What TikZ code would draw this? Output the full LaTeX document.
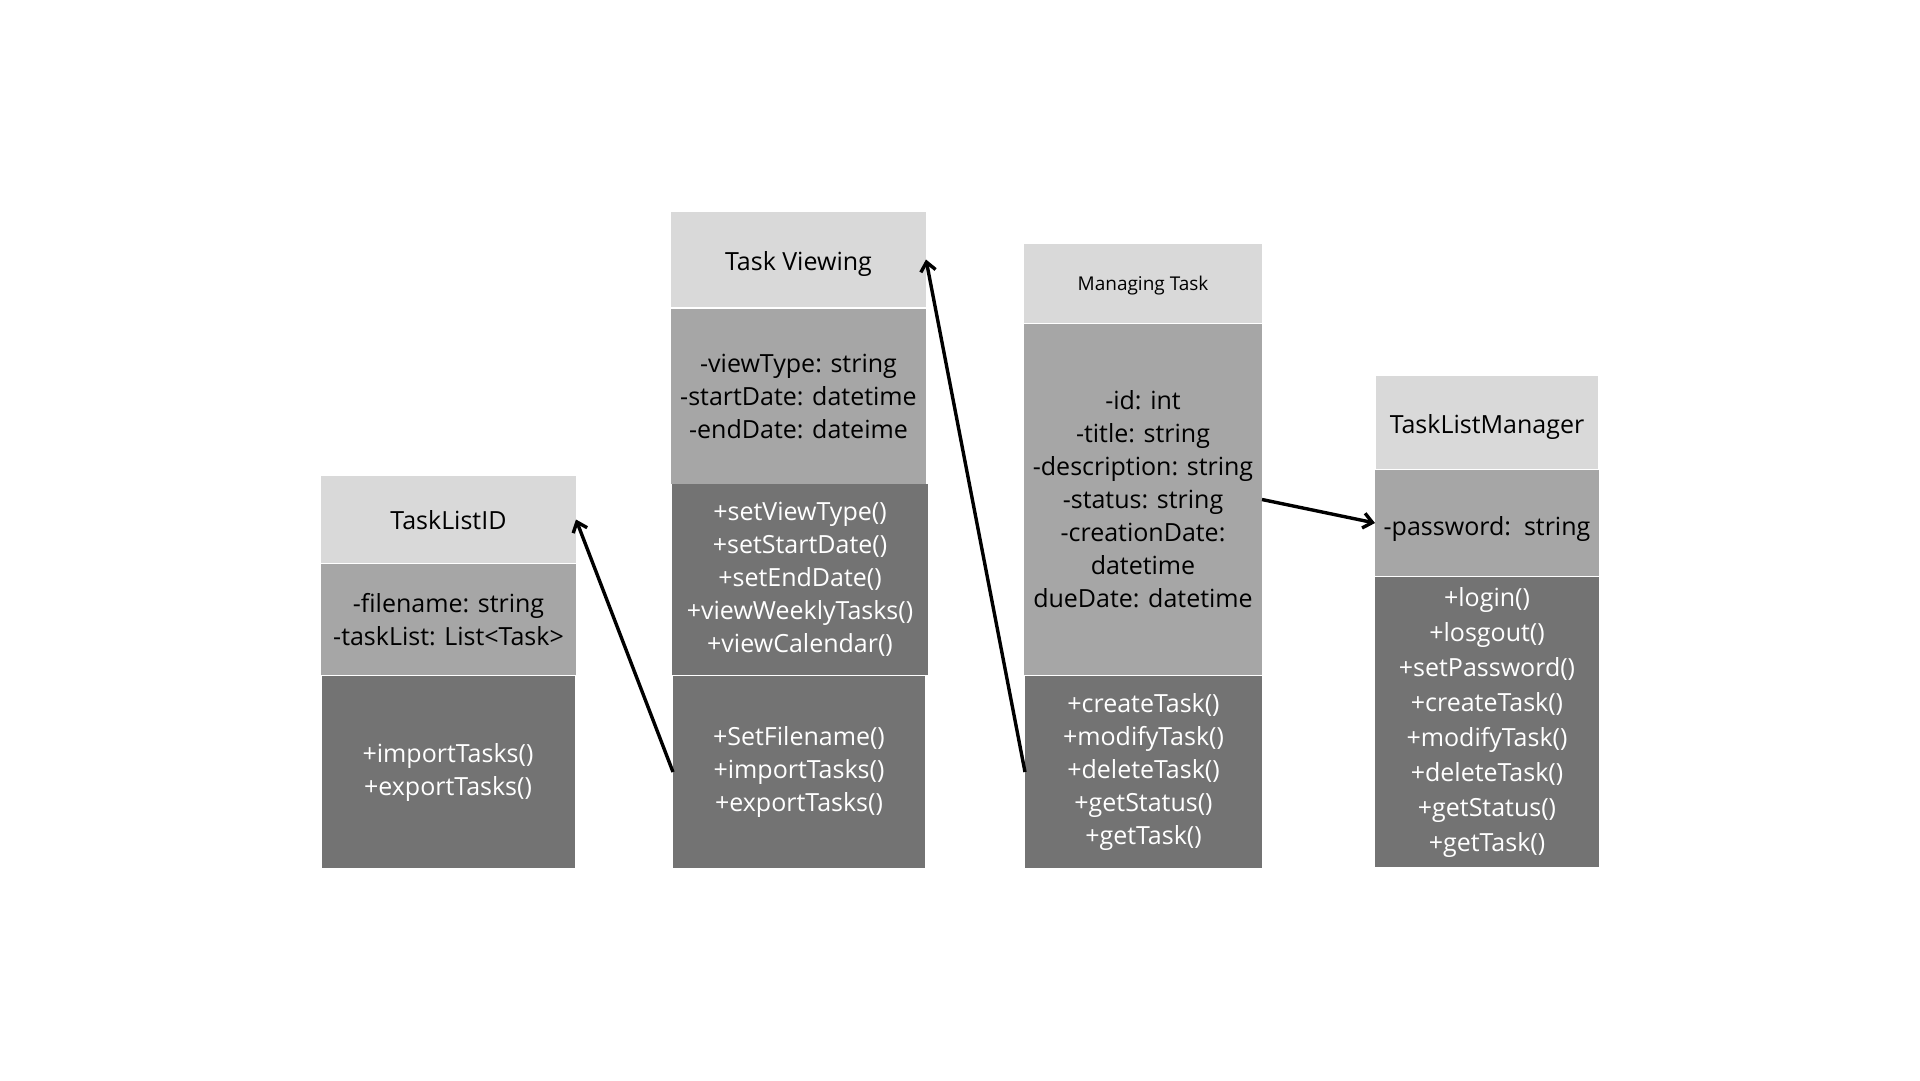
\documentclass[tikz,border=0pt]{standalone}
\usepackage{fontspec}
\setmainfont{Open Sans}
\usetikzlibrary{arrows.meta}
\definecolor{hdr}{HTML}{D9D9D9}
\definecolor{att}{HTML}{A6A6A6}
\definecolor{mth}{HTML}{737373}
\newcommand{\lowr}[2]{\raisebox{-#1}[\height][\depth]{#2}}
\tikzset{
  sec/.style 2 args={inner sep=0pt, outer sep=0pt, align=center, minimum width=#1, minimum height=#2},
  hdrsec/.style={fill=hdr, text=black, font=\fontsize{25}{33}\selectfont},
  attsec/.style={fill=att, text=black, font=\fontsize{25}{33}\selectfont},
  mthsec/.style={fill=mth, text=white, font=\fontsize{25}{33}\selectfont},
  link/.style={line width=3.4pt, -{Straight Barb[length=9pt,width=15pt]}}
}
\begin{document}
\begin{tikzpicture}[x=1pt,y=-1pt]
\useasboundingbox[fill=white] (0,0) rectangle (1920,1080);
% TaskListID
\node[sec={255pt}{87pt}, hdrsec] (b1h) at (448.5,519.5) {\lowr{1pt}{TaskListID}};
\node[sec={255pt}{111pt}, attsec] (b1a) at (448.5,619.5) {-filename: string\\-taskList: List<Task>};
\node[sec={253pt}{192pt}, mthsec] (b1m) at (448,772) {+importTasks()\\+exportTasks()};
% Task Viewing
\node[sec={255pt}{95pt}, hdrsec] (b2h) at (798.5,259.5) {\lowr{4pt}{Task Viewing}};
\node[sec={255pt}{175pt}, attsec] (b2a) at (798.5,396.5) {-viewType: string\\-startDate: datetime\\-endDate: dateime};
\node[sec={256pt}{191pt}, mthsec] (b2m1) at (800,579.5) {+setViewType()\\+setStartDate()\\+setEndDate()\\+viewWeeklyTasks()\\+viewCalendar()};
\node[sec={252pt}{192pt}, mthsec] (b2m2) at (799,772) {+SetFilename()\\+importTasks()\\+exportTasks()};
% Managing Task
\node[sec={238pt}{79pt}, hdrsec, font=\fontsize{19}{24}\selectfont] (b3h) at (1143,283.5) {\lowr{2pt}{Managing Task}};
\node[sec={238pt}{351pt}, attsec] (b3a) at (1143,499.5) {-id: int\\-title: string\\-description: string\\-status: string\\-creationDate:\\datetime\\dueDate: datetime};
\node[sec={237pt}{192pt}, mthsec] (b3m) at (1143.5,772) {+createTask()\\+modifyTask()\\+deleteTask()\\+getStatus()\\+getTask()};
% TaskListManager
\node[sec={222pt}{93pt}, hdrsec] (b4h) at (1487,422.5) {\lowr{4pt}{TaskListManager}};
\node[sec={224pt}{106pt}, attsec] (b4a) at (1487,523) {\lowr{6pt}{-password:\ \ string}};
\node[sec={224pt}{290pt}, mthsec, font=\fontsize{25}{35}\selectfont] (b4m) at (1487,722) {+login()\\+losgout()\\+setPassword()\\+createTask()\\+modifyTask()\\+deleteTask()\\+getStatus()\\+getTask()};
% connectors
\draw[link] (b2m2.west) -- (b1h.east);
\draw[link] (b3m.west) -- (b2h.east);
\draw[link] (b3a.east) -- (b4a.west);
\end{tikzpicture}
\end{document}
